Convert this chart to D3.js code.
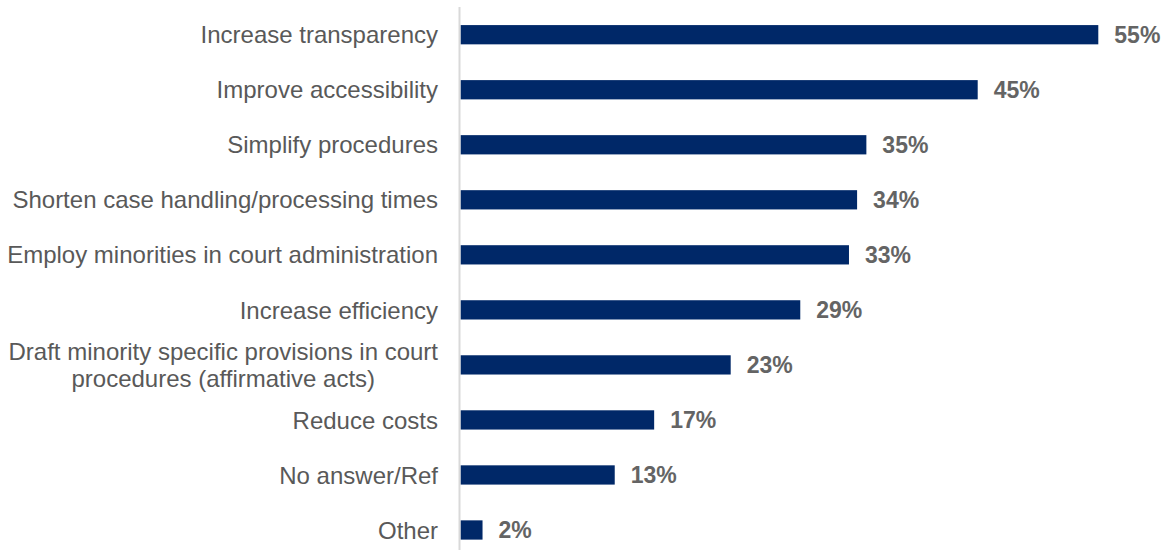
<!DOCTYPE html>
<html><head><meta charset="utf-8">
<script src="https://cdn.jsdelivr.net/npm/d3@7"></script>
<style>body{margin:0;background:#fff;}svg{display:block;font-family:"Liberation Sans",Arial,sans-serif;}</style>
</head><body>
<svg id="c" width="1171" height="550"></svg>
<script>
const categories = [
  ["Increase transparency"],
  ["Improve accessibility"],
  ["Simplify procedures"],
  ["Shorten case handling/processing times"],
  ["Employ minorities in court administration"],
  ["Increase efficiency"],
  ["Draft minority specific provisions in court", "procedures (affirmative acts)"],
  ["Reduce costs"],
  ["No answer/Ref"],
  ["Other"]
];
const values = [55, 44.6, 35, 34.2, 33.5, 29.3, 23.3, 16.7, 13.3, 1.9];
const valueLabels = ["55%", "45%", "35%", "34%", "33%", "29%", "23%", "17%", "13%", "2%"];

const svg = d3.select("#c");
const x0 = 460.5;
const x = d3.scaleLinear().domain([0, 55]).range([x0, 1098.3]);
const idx = d3.range(categories.length);
const y = d3.scaleBand().domain(idx).range([7.2, 557.5]).paddingInner(0.65).paddingOuter(0.325);

svg.selectAll("rect.bar").data(idx).join("rect")
  .attr("class", "bar")
  .attr("x", x(0))
  .attr("y", i => y(i))
  .attr("width", i => x(values[i]) - x(0))
  .attr("height", y.bandwidth())
  .attr("fill", "#002868");

svg.append("line").attr("x1", 459.5).attr("x2", 459.5).attr("y1", 7).attr("y2", 550)
  .attr("stroke", "#d9d9d9").attr("stroke-width", 2);

svg.selectAll("text.val").data(idx).join("text")
  .attr("class", "val")
  .attr("x", i => x(values[i]) + 16)
  .attr("y", i => y(i) + y.bandwidth() / 2)
  .attr("dy", "0.36em")
  .attr("font-size", 23)
  .attr("font-weight", "bold")
  .attr("fill", "#646464")
  .text(i => valueLabels[i]);

const cat = svg.selectAll("text.cat").data(idx).join("text")
  .attr("class", "cat")
  .attr("font-size", 24)
  .attr("fill", "#595959")
  .attr("transform", i => `translate(438,${y(i) + y.bandwidth() / 2})`);
cat.each(function(i) {
  const lines = categories[i];
  const n = lines.length;
  const t = d3.select(this);
  const spans = lines.map((l, k) => t.append("tspan")
      .attr("y", (k - (n - 1) / 2) * 27)
      .attr("dy", "0.36em")
      .text(l));
  if (n === 1) {
    spans[0].attr("x", 0).attr("text-anchor", "end");
  } else {
    const w = d3.max(spans, s => s.node().getComputedTextLength());
    spans.forEach(s => s.attr("x", -w / 2).attr("text-anchor", "middle"));
  }
});
</script>
</body></html>
